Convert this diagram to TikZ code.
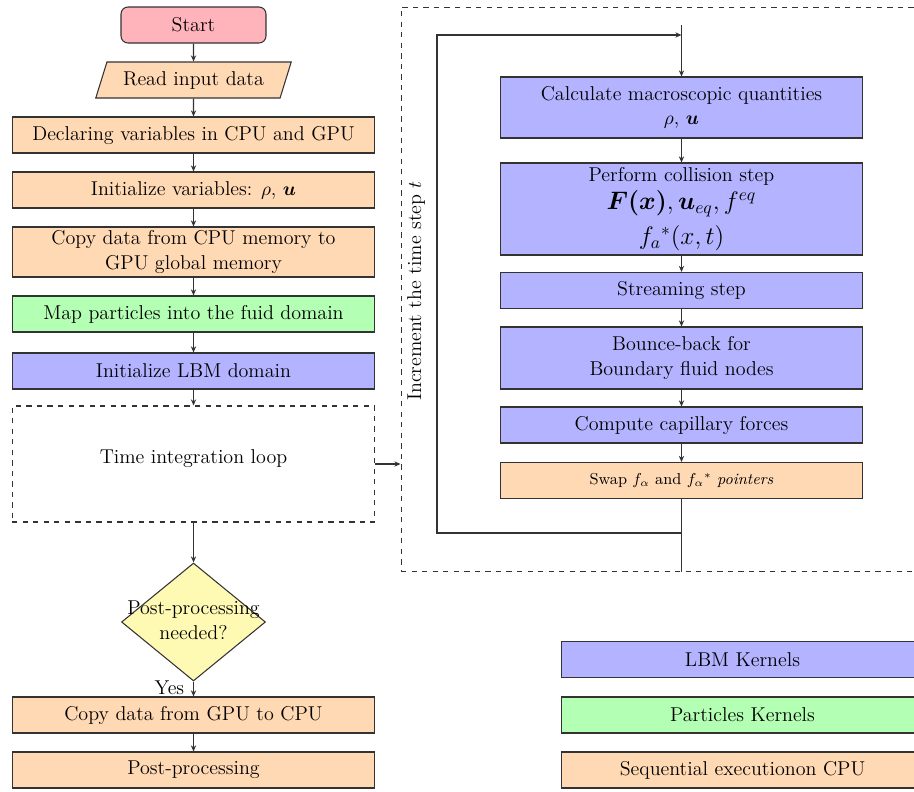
\documentclass[tikz,border=0pt]{standalone}
\usepackage{amsmath,amssymb,bm}
\usetikzlibrary{shapes.geometric,arrows.meta}

\definecolor{startpink}{RGB}{255,179,186}
\definecolor{cpuorange}{RGB}{255,217,179}
\definecolor{lbmblue}{RGB}{179,179,255}
\definecolor{partgreen}{RGB}{179,255,179}
\definecolor{decyellow}{RGB}{255,250,179}

\begin{document}
\begin{tikzpicture}[x=0.02cm,y=-0.02cm,
	font=\fontsize{11.4}{14}\selectfont,
	box/.style={draw=black!80,line width=0.6pt,minimum width=7.26cm,minimum height=0.72cm,inner sep=2pt,align=center},
	cpu/.style={box,fill=cpuorange},
	lbm/.style={box,fill=lbmblue},
	part/.style={box,fill=partgreen},
	decision/.style={diamond,draw=black!80,fill=decyellow,line width=0.6pt,minimum width=2.88cm,minimum height=2.36cm,inner sep=0pt},
	flow/.style={-{Stealth[length=3.5pt,width=3pt]},draw=black!80,line width=0.6pt}]
	\useasboundingbox (0,0) rectangle (914,792);
	\clip (0,0) rectangle (914,792);

	% main column
	\node[box,fill=startpink,rounded corners=4pt,minimum width=2.9cm] (start) at (193.5,25) {Start};
	\node[cpu,trapezium,trapezium left angle=69,trapezium right angle=111,trapezium stretches=true,minimum width=3.92cm] (read) at (193.5,80) {Read input data};
	\node[cpu] (decl) at (193.5,135) {Declaring variables in CPU and GPU};
	\node[cpu] (initv) at (193.5,190) {Initialize variables: $\rho$, $\bm{u}$};
	\node[cpu,minimum height=1cm] (copyin) at (193.5,252) {Copy data from CPU memory to\\GPU global memory};
	\node[part] (map) at (193.5,314) {Map particles into the fuid domain};
	\node[lbm] (initl) at (193.5,371) {Initialize LBM domain};
	\node[box,dashed,minimum height=2.32cm] (tloop) at (193.5,464) {};
	\node (tlooptext) at (193.5,459) {Time integration loop};
	\node[decision] (post) at (193.5,622) {};
	\node[align=center] (posttext) at (193.5,620) {Post-processing\\needed?};
	\node[cpu] (copyout) at (193.5,715) {Copy data from GPU to CPU};
	\node[cpu] (postproc) at (193.5,770) {Post-processing};

	% time loop
	\node[draw=black!80,dashed,line width=0.6pt,minimum width=11.18cm,minimum height=11.3cm] (frame) at (680.5,289.5) {};
	\node[lbm,minimum height=1.22cm] (macro) at (681.5,107.5) {Calculate macroscopic quantities\\$\rho$, $\bm{u}$};
	\node[lbm,minimum height=1.84cm] (coll) at (681.5,209) {Perform collision step\\[2pt]{\Large $\bm{F(x)}, \bm{u}_{eq}, f^{eq}$}\\[4pt]{\Large $f_a{}^*(x,t)$}};
	\node[lbm] (stream) at (681.5,290.5) {Streaming step};
	\node[lbm,minimum height=1.24cm] (bounce) at (681.5,358) {Bounce-back for\\Boundary fluid nodes};
	\node[lbm] (capil) at (681.5,425) {Compute capillary forces};
	\node[cpu] (swap) at (681.5,480.5) {\small Swap $f_\alpha$ and $f_\alpha{}^*$ \textit{pointers}};
	\node[rotate=90] (incr) at (416,291) {Increment the time step $t$};

	% legend
	\node[lbm] (legl) at (742.5,659.5) {LBM Kernels};
	\node[part] (legp) at (742.5,715) {Particles Kernels};
	\node[cpu] (legc) at (742.5,770) {Sequential executionon CPU};

	\foreach \a/\b in {start/read,read/decl,decl/initv,initv/copyin,copyin/map,map/initl,initl/tloop,tloop/post,copyout/postproc,macro/coll,coll/stream,stream/bounce,bounce/capil,capil/swap}
		\draw[flow] (\a) -- (\b);
	\draw[flow] (post) -- node[left,pos=0.45,inner sep=5pt] {Yes} (copyout);
	\draw[flow] (tloop.east) -- (tloop.east -| frame.west);

	\coordinate (bot) at (swap.south |- frame.south);
	\coordinate (r1) at (681.5,533);
	\coordinate (r2) at (437,533);
	\coordinate (r3) at (437,35);
	\coordinate (r4) at (681.5,35);
	\coordinate (r5) at (681.5,25);
	\draw[draw=black!80,line width=0.6pt] (swap.south) -- (bot);
	\draw[flow] (r1) -- (r2) -- (r3) -- (r4);
	\draw[flow] (r5) -- (macro.north);
\end{tikzpicture}
\end{document}
